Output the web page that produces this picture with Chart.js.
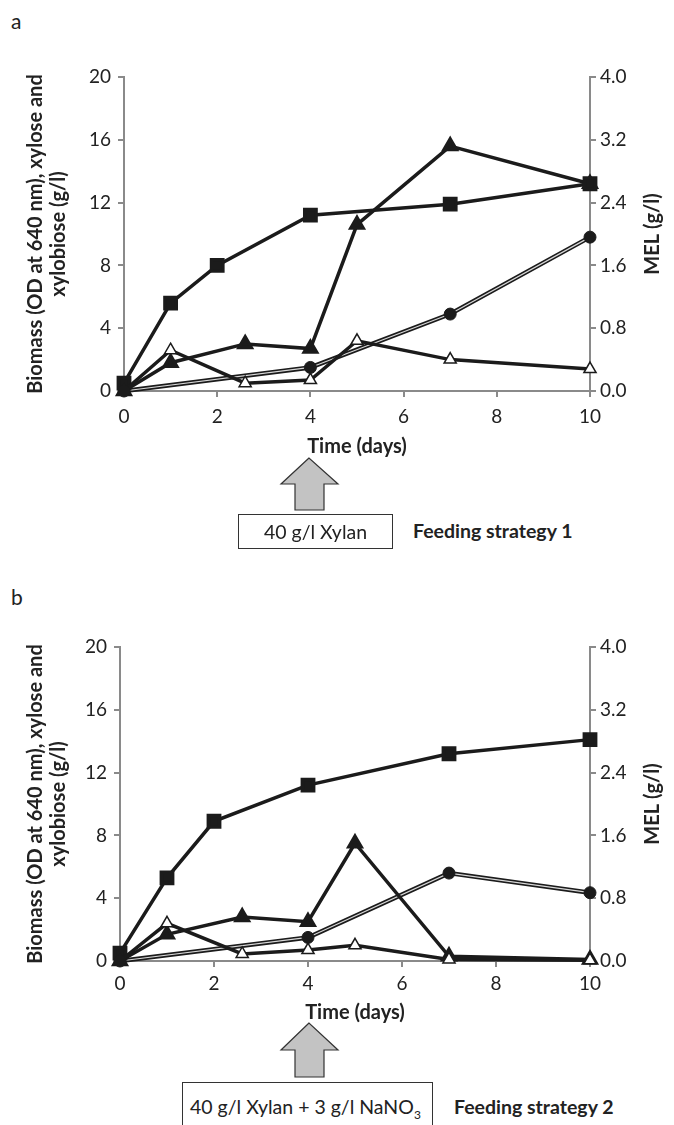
<!DOCTYPE html>
<html>
<head>
<meta charset="utf-8">
<script src="https://cdn.jsdelivr.net/npm/chart.js@4"></script>
<style>
  body { margin: 0; background: #fff; font-family: Lato, sans-serif; color: #222; }
  #page { position: relative; width: 674px; height: 1125px; overflow: hidden; }
  canvas { position: absolute; left: 0; }
  .tag { position: absolute; left: 11px; font-size: 21px; line-height: 21px; }
  .arrow { position: absolute; left: 278px; }
  .box { position: absolute; border: 1px solid #333; font-size: 19.5px; text-align: center; box-sizing: border-box; }
  .strategy { position: absolute; font-size: 19.5px; font-weight: bold; }
</style>
</head>
<body>
<div id="page">
  <div class="tag" style="top:10px">a</div>
  <canvas id="chartA" width="674" height="420" style="top:40px"></canvas>
  <svg class="arrow" style="top:456px" width="64" height="58">
    <polygon points="31,2 3,28 17,28 17,54 46,54 46,28 60,28" fill="#c3c3c3" stroke="#333" stroke-width="1.2"/>
  </svg>
  <div class="box" style="left:238px;top:514px;width:155px;height:35px;line-height:33px">40 g/l Xylan</div>
  <div class="strategy" style="left:413px;top:519px">Feeding strategy 1</div>

  <div class="tag" style="top:586px">b</div>
  <canvas id="chartB" width="674" height="416" style="top:610px"></canvas>
  <svg class="arrow" style="top:1021px" width="64" height="58">
    <polygon points="31,2 3,29 17,29 17,56 46,56 46,29 60,29" fill="#c3c3c3" stroke="#333" stroke-width="1.2"/>
  </svg>
  <div class="box" style="left:182px;top:1082px;width:251px;height:50px;line-height:48px;text-align:left;padding-left:7px;">40 g/l Xylan + 3 g/l NaNO<sub style="font-size:12px">3</sub></div>
  <div class="strategy" style="left:454px;top:1095px">Feeding strategy 2</div>
</div>

<script>
// panel a - feeding strategy 1
const aBiomassDays = [0, 1, 2, 4, 7, 10];
const aBiomass = [0.5, 5.6, 8.0, 11.2, 11.9, 13.2];
const aXyloseDays = [0, 1, 2.6, 4, 5, 7, 10];
const aXylose = [0, 1.8, 3.0, 2.7, 10.6, 15.6, 13.2];
const aXylobioseDays = [0, 1, 2.6, 4, 5, 7, 10];
const aXylobiose = [0, 2.6, 0.5, 0.7, 3.2, 2.0, 1.4];
const aMelDays = [0, 4, 7, 10];
const aMel = [0, 0.30, 0.98, 1.96];

// panel b - feeding strategy 2
const bBiomassDays = [0, 1, 2, 4, 7, 10];
const bBiomass = [0.5, 5.3, 8.9, 11.2, 13.2, 14.1];
const bXyloseDays = [0, 1, 2.6, 4, 5, 7, 10];
const bXylose = [0, 1.7, 2.8, 2.5, 7.5, 0.3, 0.1];
const bXylobioseDays = [0, 1, 2.6, 4, 5, 7, 10];
const bXylobiose = [0, 2.4, 0.45, 0.7, 1.0, 0.1, 0.05];
const bMelDays = [0, 4, 7, 10];
const bMel = [0, 0.30, 1.12, 0.87];

const xTicks = [0, 2, 4, 6, 8, 10];
const leftTitle = ['Biomass (OD at 640 nm), xylose and', 'xylobiose (g/l)'];
const rightTitle = 'MEL (g/l)';
const xTitle = 'Time (days)';

const INK = '#1b1b1b';
const AXIS = '#8a8a8a';
const TITLE_FONT = 'bold 20px Lato';

function pts(xs, ys) {
    return xs.map((x, i) => ({ x: x, y: ys[i] }));
}

// the right axis title reads bottom-to-top like the left one
const rightTitlePlugin = {
    id: 'rightTitle',
    afterDraw(chart) {
        const s = chart.scales.y1;
        const c = chart.ctx;
        c.save();
        c.translate(s.right - 15, (s.top + s.bottom) / 2);
        c.rotate(-Math.PI / 2);
        c.font = TITLE_FONT;
        c.fillStyle = '#222';
        c.textAlign = 'center';
        c.textBaseline = 'middle';
        c.fillText(rightTitle, 0, 0);
        c.restore();
    }
};

function makeChart(id, d, leftWidth, xHeight, tickPad) {
    const ctx = document.getElementById(id).getContext('2d');
    const tickFont = { family: 'Lato', size: 19 };
    const titleFont = { family: 'Lato', size: 20, weight: 'bold', lineHeight: 1.15 };
    const grid = { drawOnChartArea: false, drawTicks: true, tickLength: 6, color: AXIS, lineWidth: 2 };
    const border = { display: true, color: AXIS, width: 2 };

    new Chart(ctx, {
        type: 'scatter',
        data: {
            datasets: [
                {
                    label: 'MEL points', data: pts(d.melDays, d.mel), yAxisID: 'y1',
                    showLine: false, pointStyle: 'circle', pointRadius: 6,
                    backgroundColor: INK, borderColor: INK, order: 0, clip: false
                },
                {
                    label: 'Xylobiose', data: pts(d.xbDays, d.xb), yAxisID: 'y',
                    showLine: true, borderColor: INK, borderWidth: 3.5,
                    pointStyle: 'triangle', pointRadius: 7, pointBorderWidth: 1.5,
                    pointBackgroundColor: '#fff', pointBorderColor: INK, order: 1, clip: false
                },
                {
                    label: 'Biomass', data: pts(d.bioDays, d.bio), yAxisID: 'y',
                    showLine: true, borderColor: INK, borderWidth: 3.5,
                    pointStyle: 'rect', pointRadius: 8, pointBackgroundColor: INK,
                    pointBorderColor: INK, order: 2, clip: false
                },
                {
                    label: 'Xylose', data: pts(d.xyDays, d.xy), yAxisID: 'y',
                    showLine: true, borderColor: INK, borderWidth: 3.5,
                    pointStyle: 'triangle', pointRadius: 7, pointBackgroundColor: INK,
                    pointBorderColor: INK, order: 3, clip: false
                },
                {
                    label: 'MEL core', data: pts(d.melDays, d.mel), yAxisID: 'y1',
                    showLine: true, borderColor: '#d8d8d8', borderWidth: 1.2,
                    pointRadius: 0, order: 4, clip: false
                },
                {
                    label: 'MEL', data: pts(d.melDays, d.mel), yAxisID: 'y1',
                    showLine: true, borderColor: INK, borderWidth: 4.5,
                    pointRadius: 0, order: 5, clip: false
                }
            ]
        },
        options: {
            responsive: false,
            animation: false,
            devicePixelRatio: 1,
            layout: { padding: { left: 20, right: 6, top: 37, bottom: 0 } },
            plugins: { legend: { display: false }, tooltip: { enabled: false } },
            scales: {
                x: {
                    type: 'linear', min: 0, max: 10,
                    afterBuildTicks: s => { s.ticks = xTicks.map(v => ({ value: v })); },
                    ticks: { font: tickFont, color: '#222', padding: tickPad, maxRotation: 0 },
                    grid: grid, border: border,
                    title: { display: true, text: xTitle, font: titleFont, color: '#222', padding: { top: 2, bottom: 2 } },
                    afterFit: s => { s.height = xHeight; }
                },
                y: {
                    position: 'left', min: 0, max: 20,
                    ticks: { stepSize: 4, font: tickFont, color: '#222', padding: 7 },
                    grid: grid, border: border,
                    title: { display: true, text: leftTitle, font: titleFont, color: '#222', padding: { top: 4, bottom: 4 } },
                    afterFit: s => { s.width = leftWidth; }
                },
                y1: {
                    position: 'right', min: 0, max: 4,
                    ticks: { stepSize: 0.8, font: tickFont, color: '#222', padding: 4, callback: v => v.toFixed(1) },
                    grid: grid, border: border,
                    title: { display: false },
                    afterFit: s => { s.width = 78; }
                }
            }
        },
        plugins: [rightTitlePlugin]
    });
}

makeChart('chartA', {
    bioDays: aBiomassDays, bio: aBiomass,
    xyDays: aXyloseDays, xy: aXylose,
    xbDays: aXylobioseDays, xb: aXylobiose,
    melDays: aMelDays, mel: aMel
}, 104, 69, 8);

makeChart('chartB', {
    bioDays: bBiomassDays, bio: bBiomass,
    xyDays: bXyloseDays, xy: bXylose,
    xbDays: bXylobioseDays, xb: bXylobiose,
    melDays: bMelDays, mel: bMel
}, 100, 65, 5);
</script>
</body>
</html>
